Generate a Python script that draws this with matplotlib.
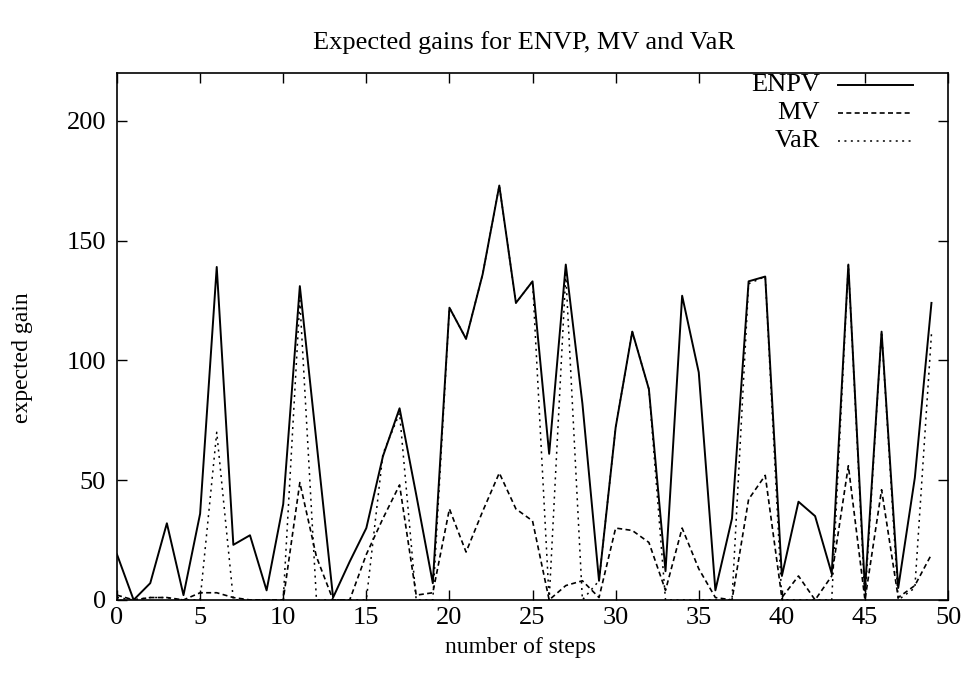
import matplotlib
matplotlib.use("Agg")
import matplotlib.pyplot as plt

plt.rcParams['font.family'] = ['Liberation Serif', 'DejaVu Serif']

# Expected gain per number of steps
steps = list(range(50))
enpv = [19, 0, 7, 32, 2, 36, 139, 23, 27, 4, 40, 131, 66, 1, 16, 30, 60, 80, 44, 7,
        122, 109, 136, 173, 124, 133, 61, 140, 82, 8, 72, 112, 88, 12, 127, 95, 4, 34, 133, 135,
        10, 41, 35, 11, 140, 4, 112, 5, 51, 124]
mv = [2, 0, 1, 1, 0, 3, 3, 1, 0, 0, 0, 49, 18, 0, 0, 19, 34, 48, 2, 3,
      38, 20, 37, 53, 38, 33, 0, 6, 8, 1, 30, 29, 24, 4, 30, 13, 1, 0, 42, 52,
      1, 10, 0, 10, 56, 0, 46, 1, 6, 19]
var = [1, 0, 1, 1, 0, 0, 70, 0, 0, 0, 0, 125, 0, 0, 0, 0, 61, 78, 0, 0,
       122, 109, 136, 173, 124, 133, 0, 136, 0, 8, 72, 112, 88, 0, 0, 0, 0, 0, 132, 135,
       0, 0, 0, 0, 140, 0, 112, 0, 5, 111]

labels = ['ENPV', 'MV', 'VaR']
styles = [dict(lw=1.4, ls='-'),
          dict(lw=1.2, dashes=(3.0, 2.0)),
          dict(lw=1.1, dashes=(1.3, 2.9))]

fig = plt.figure(figsize=(9.63, 6.88), dpi=100)
ax = fig.add_axes([0.1215, 0.128, 0.863, 0.766])

for series, style in zip([enpv, mv, var], styles):
    ax.plot(steps, series, color='black', **style)

ax.set_xlim(0, 50)
ax.set_ylim(0, 220)
ax.set_xticks(range(0, 51, 5))
ax.set_yticks(range(0, 201, 50))
ax.tick_params(direction='in', length=7, width=1, labelsize=19,
               top=True, right=True)
ax.tick_params(axis='x', pad=5)
ax.tick_params(axis='y', pad=8)
for sp in ax.spines.values():
    sp.set_linewidth(1.2)

ax.set_title('Expected gains for ENVP, MV and VaR', fontsize=19, pad=17, x=0.49)
ax.set_xlabel('number of steps', fontsize=17, labelpad=6, x=0.485)
ax.set_ylabel('expected gain', fontsize=17, labelpad=24, y=0.46)

# gnuplot-style key: right-aligned labels, sample line to the right
for i, (lab, style) in enumerate(zip(labels, styles)):
    yk = 0.978 - i * 0.054
    ax.text(0.846, yk, lab, transform=ax.transAxes, ha='right', va='center', fontsize=19)
    ax.plot([0.868, 0.958], [yk, yk], transform=ax.transAxes, color='black', **style)

fig.savefig('out.png', dpi=100)
